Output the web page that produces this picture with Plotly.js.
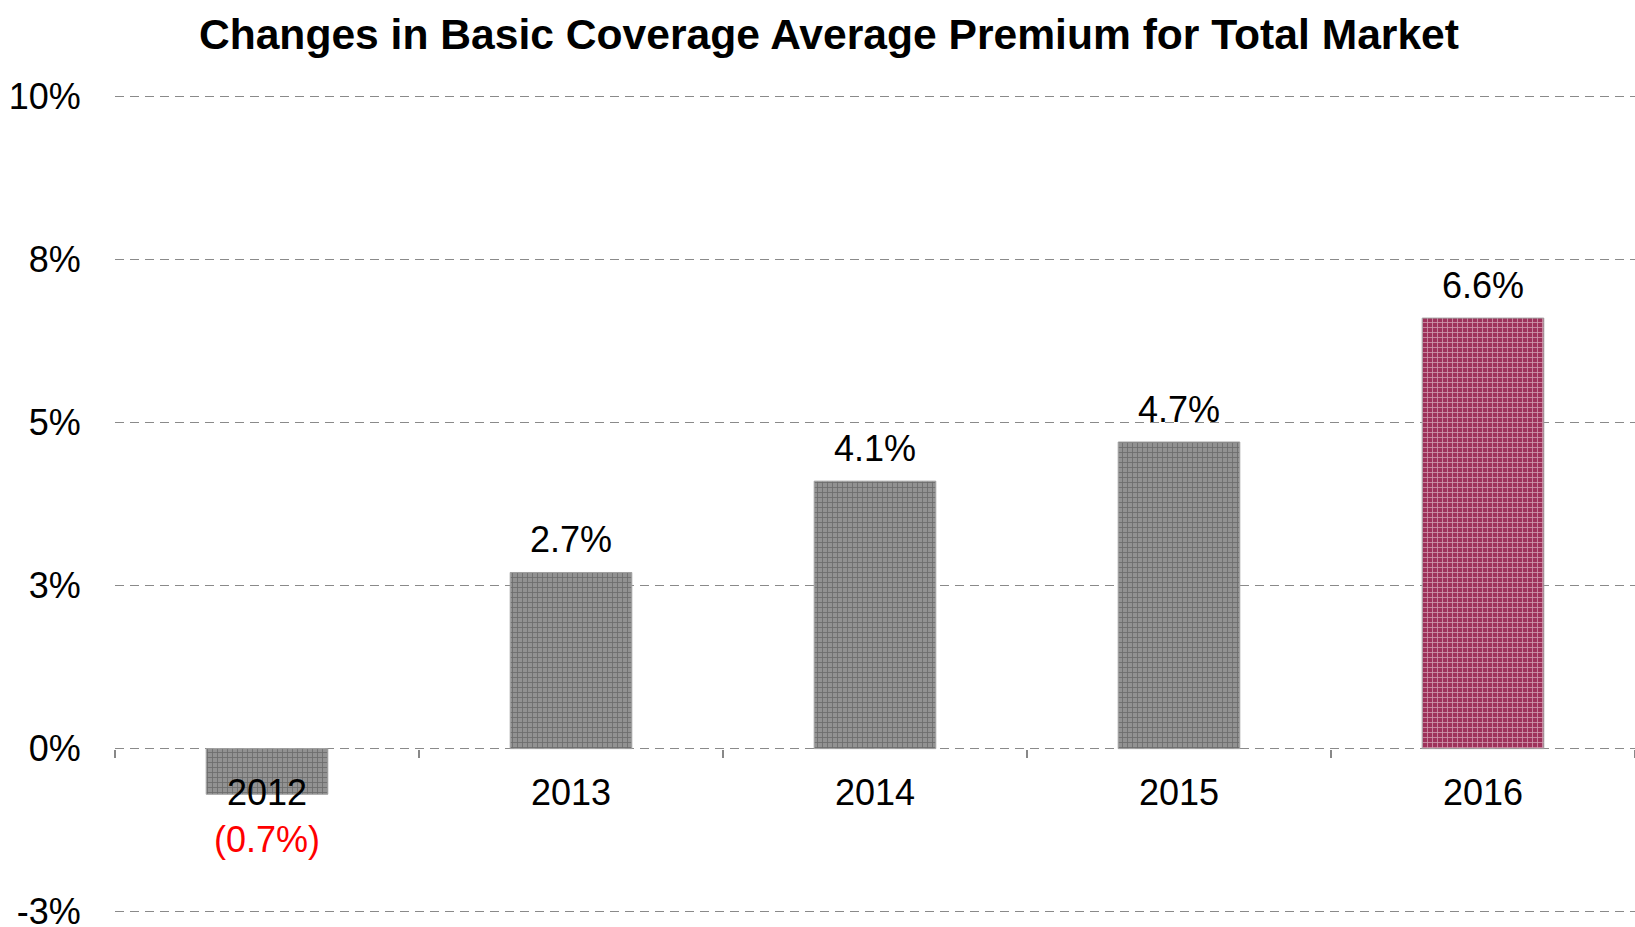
<!DOCTYPE html>
<html>
<head>
<meta charset="utf-8">
<script src="https://cdn.plot.ly/plotly-3.0.1.min.js"></script>
<style>html,body{margin:0;padding:0;background:#fff;}#chart{width:1635px;height:927px;}</style>
</head>
<body>
<div id="chart"></div>
<script>
const years = ['2012', '2013', '2014', '2015', '2016'];
const changes = [-0.7, 2.7, 4.1, 4.7, 6.6];
const barLabels = ['(0.7%)', '2.7%', '4.1%', '4.7%', '6.6%'];
const labelColors = ['#ff0000', '#000000', '#000000', '#000000', '#000000'];
const barBg = ['#929292', '#929292', '#929292', '#929292', '#9e325b'];
const barFg = ['#c2c2c2', '#c2c2c2', '#c2c2c2', '#c2c2c2', '#cf7896'];
const yTickVals = [-2.5, 0, 2.5, 5, 7.5, 10];
const yTickText = ['-3%', '0%', '3%', '5%', '8%', '10%'];

const font = 'Liberation Sans, Arial, sans-serif';

const trace = {
  type: 'bar',
  x: years,
  y: changes,
  width: 0.4,
  marker: {
    color: barBg,
    line: {color: '#a0a0a0', width: 1},
    pattern: {shape: '+', fillmode: 'overlay', fgcolor: barFg, size: 5, solidity: 0.3}
  },
  hoverinfo: 'skip'
};

const annotations = years.map((yr, i) => {
  const v = changes[i];
  return {
    x: i, y: v, xref: 'x', yref: 'y',
    text: barLabels[i],
    showarrow: false,
    font: {family: font, size: 36, color: labelColors[i]},
    yanchor: 'middle',
    yshift: v >= 0 ? 33 : -45
  };
});

const layout = {
  width: 1635, height: 927,
  margin: {l: 115, r: 0, t: 95, b: 14},
  paper_bgcolor: '#ffffff', plot_bgcolor: '#ffffff',
  showlegend: false,
  title: {
    text: '<b>Changes in Basic Coverage Average Premium for Total Market</b>',
    font: {family: font, size: 42.6, color: '#000'},
    x: 0.507, xref: 'container', xanchor: 'center',
    y: 0.963, yref: 'container', yanchor: 'middle'
  },
  xaxis: {
    type: 'category',
    categoryorder: 'array', categoryarray: years,
    range: [-0.5, 4.5],
    anchor: 'free', position: 0.2,
    showgrid: false, showline: false, zeroline: false,
    ticks: 'outside', tickson: 'boundaries', ticklen: 8, tickwidth: 1.5, tickcolor: '#888',
    tickfont: {family: font, size: 36, color: '#000'},
    tickangle: 0,
    ticklabelstandoff: 19,
    automargin: false
  },
  yaxis: {
    range: [-2.52, 10.02],
    domain: [0, 1],
    tickvals: yTickVals, ticktext: yTickText,
    showgrid: true, gridcolor: '#8a8a8a', gridwidth: 1.5, griddash: '9px,6px',
    zeroline: false, showline: false,
    ticks: 'outside', ticklen: 26, tickcolor: 'rgba(0,0,0,0)',
    tickfont: {family: font, size: 36, color: '#000'},
    ticklabeloverflow: 'allow',
    automargin: false
  },
  annotations: annotations
};

Plotly.newPlot('chart', [trace], layout, {displayModeBar: false, staticPlot: true});
</script>
</body>
</html>
